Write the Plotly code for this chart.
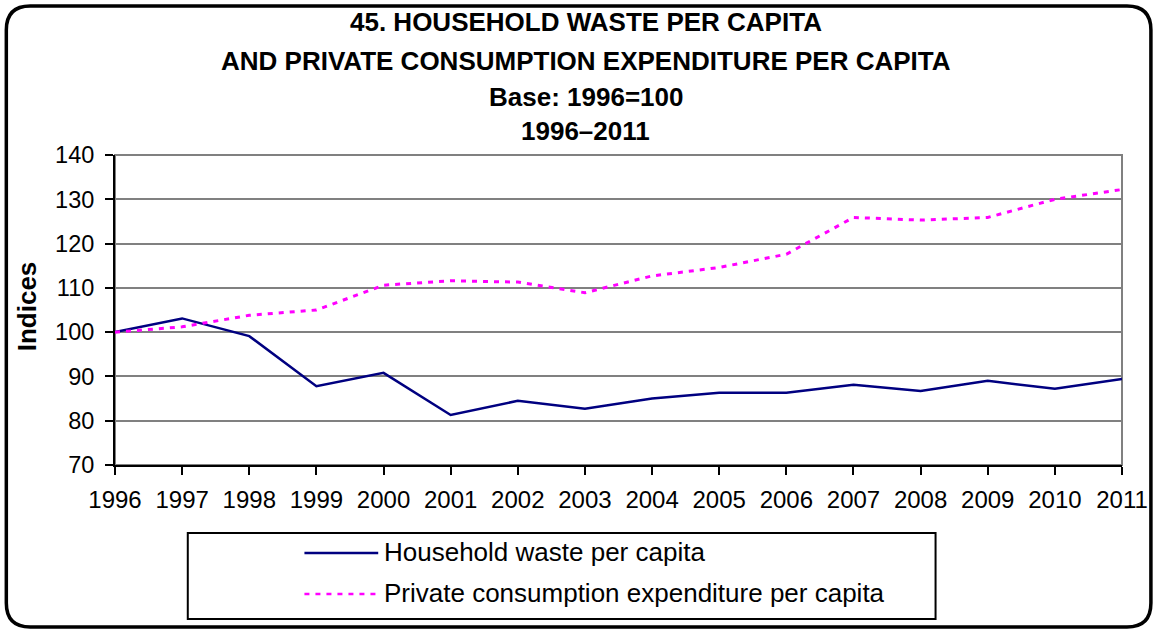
import plotly.graph_objects as go

# Index values, base 1996 = 100
years = list(range(1996, 2012))
household_waste = [100.0, 103.1, 99.1, 87.8, 90.8, 81.3, 84.5, 82.7,
                   85.0, 86.3, 86.3, 88.1, 86.7, 89.0, 87.2, 89.4]
consumption = [100.0, 101.2, 103.8, 105.0, 110.6, 111.6, 111.3, 108.9,
               112.7, 114.6, 117.6, 125.9, 125.3, 125.9, 130.0, 132.2]

series_names = ["Household waste per capita",
                "Private consumption expenditure per capita"]
title_lines = ["45. HOUSEHOLD WASTE PER CAPITA",
               "AND PRIVATE CONSUMPTION EXPENDITURE PER CAPITA",
               "Base: 1996=100",
               "1996\u20132011"]
y_ticks = [70, 80, 90, 100, 110, 120, 130, 140]

W, H = 1160, 632
L, R, T, B = 115, 35, 155, 167
PW, PH = W - L - R, H - T - B

def px(x):
    return (x - L) / PW

def py(y):
    return (H - B - y) / PH

FONT = "Liberation Sans, Arial, sans-serif"
NAVY = "#000080"
MAGENTA = "#FF00FF"

fig = go.Figure()
fig.add_trace(go.Scatter(x=years, y=household_waste, mode="lines",
                         name=series_names[0],
                         line=dict(color=NAVY, width=2.5)))
fig.add_trace(go.Scatter(x=years, y=consumption, mode="lines",
                         name=series_names[1],
                         line=dict(color=MAGENTA, width=3, dash="5px,6px")))

shapes = []
# plot area frame (grey top/right edges)
shapes.append(dict(type="rect", xref="paper", yref="paper", x0=0, x1=1, y0=0, y1=1,
                   line=dict(color="#808080", width=2), layer="below"))

# rounded outer border of the whole chart
x0, x1, y0, y1, r = 6, 1154, 6, 627, 24
path = (f"M {px(x0 + r)},{py(y0)} L {px(x1 - r)},{py(y0)} "
        f"Q {px(x1)},{py(y0)} {px(x1)},{py(y0 + r)} "
        f"L {px(x1)},{py(y1 - r)} Q {px(x1)},{py(y1)} {px(x1 - r)},{py(y1)} "
        f"L {px(x0 + r)},{py(y1)} Q {px(x0)},{py(y1)} {px(x0)},{py(y1 - r)} "
        f"L {px(x0)},{py(y0 + r)} Q {px(x0)},{py(y0)} {px(x0 + r)},{py(y0)} Z")
shapes.append(dict(type="path", xref="paper", yref="paper", path=path,
                   line=dict(color="black", width=3.5)))

# legend box and samples
shapes.append(dict(type="rect", xref="paper", yref="paper",
                   x0=px(188), x1=px(938), y0=py(533), y1=py(619),
                   line=dict(color="black", width=2)))
shapes.append(dict(type="line", xref="paper", yref="paper",
                   x0=px(305), x1=px(379), y0=py(553), y1=py(553),
                   line=dict(color=NAVY, width=2.5)))
shapes.append(dict(type="line", xref="paper", yref="paper",
                   x0=px(305), x1=px(379), y0=py(594), y1=py(594),
                   line=dict(color=MAGENTA, width=2.5, dash="5px,6px")))

annotations = []
for text, yc in zip(title_lines, [22, 61, 97, 131]):
    annotations.append(dict(text=f"<b>{text}</b>", xref="paper", yref="paper",
                            x=px(587), y=py(yc), xanchor="center", yanchor="middle",
                            showarrow=False, font=dict(family=FONT, size=26, color="black")))
for text, yc in zip(series_names, [552, 593]):
    annotations.append(dict(text=text, xref="paper", yref="paper",
                            x=px(383), y=py(yc), xanchor="left", yanchor="middle",
                            showarrow=False, font=dict(family=FONT, size=26, color="black")))
annotations.append(dict(text="<b>Indices</b>", xref="paper", yref="paper",
                        x=px(27), y=py(306), xanchor="center", yanchor="middle",
                        textangle=-90, showarrow=False,
                        font=dict(family=FONT, size=26, color="black")))

fig.update_layout(
    width=W, height=H,
    margin=dict(l=L, r=R, t=T, b=B),
    paper_bgcolor="white", plot_bgcolor="white",
    showlegend=False,
    font=dict(family=FONT, size=24, color="black"),
    shapes=shapes, annotations=annotations,
    xaxis=dict(range=[1996, 2011], tickvals=years, ticktext=[str(y) for y in years],
               showgrid=False, zeroline=False, showline=True, linecolor="black",
               linewidth=2, ticks="outside", ticklen=8, tickwidth=2, tickcolor="black",
               ticklabelstandoff=4,
               tickfont=dict(family=FONT, size=24, color="black")),
    yaxis=dict(range=[70, 140], tickvals=y_ticks, showgrid=True, gridcolor="#808080",
               gridwidth=1.5, zeroline=False, showline=True, linecolor="black",
               linewidth=2, ticks="outside", ticklen=8, tickwidth=2, tickcolor="black",
               ticklabelstandoff=6,
               tickfont=dict(family=FONT, size=23.5, color="black")),
)

fig.write_html("out.html")
